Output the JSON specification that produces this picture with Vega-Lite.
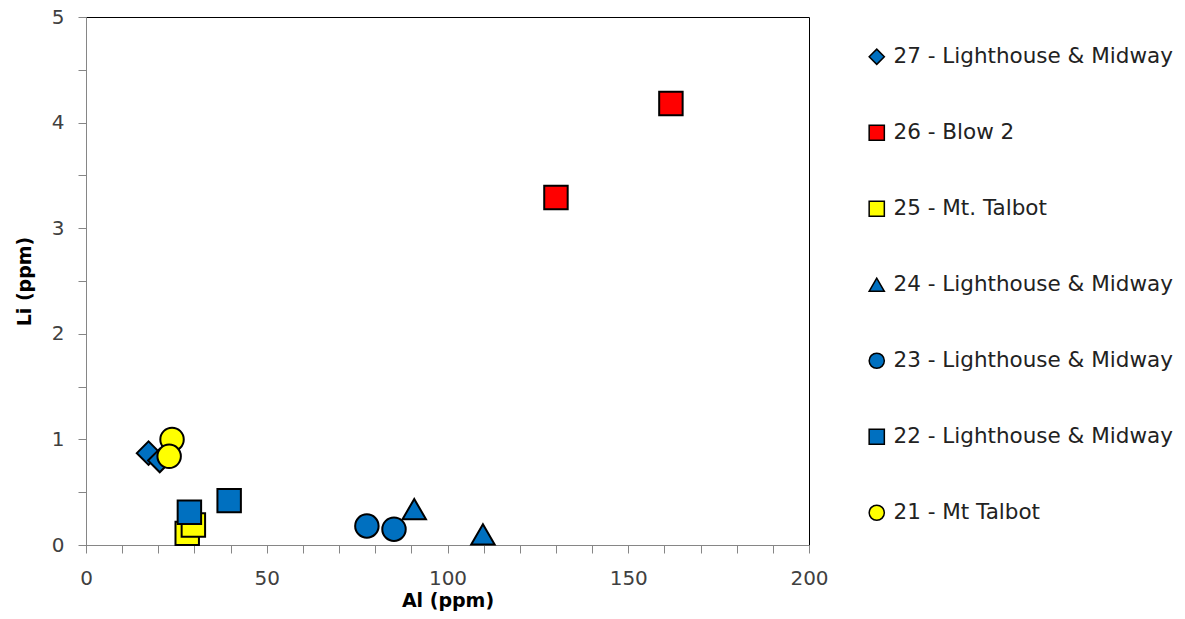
{
  "$schema": "https://vega.github.io/schema/vega-lite/v6.json",
  "width": 723,
  "height": 528,
  "autosize": {"type": "none"},
  "padding": {"left": 86, "top": 17, "right": 376, "bottom": 74},
  "background": "white",
  "config": {
    "font": "DejaVu Sans",
    "view": {"stroke": "#000000", "strokeWidth": 1}
  },
  "data": {
    "values": [
      {"series": "27 - Lighthouse & Midway", "Al": 17.3, "Li": 0.87},
      {"series": "27 - Lighthouse & Midway", "Al": 20.4, "Li": 0.80},
      {"series": "26 - Blow 2", "Al": 130.0, "Li": 3.29},
      {"series": "26 - Blow 2", "Al": 161.8, "Li": 4.18},
      {"series": "25 - Mt. Talbot", "Al": 28.0, "Li": 0.11},
      {"series": "25 - Mt. Talbot", "Al": 29.7, "Li": 0.19},
      {"series": "24 - Lighthouse & Midway", "Al": 90.8, "Li": 0.34},
      {"series": "24 - Lighthouse & Midway", "Al": 109.8, "Li": 0.10},
      {"series": "23 - Lighthouse & Midway", "Al": 77.7, "Li": 0.18},
      {"series": "23 - Lighthouse & Midway", "Al": 85.2, "Li": 0.15},
      {"series": "22 - Lighthouse & Midway", "Al": 28.6, "Li": 0.31},
      {"series": "22 - Lighthouse & Midway", "Al": 39.6, "Li": 0.42},
      {"series": "21 - Mt Talbot", "Al": 23.8, "Li": 1.00},
      {"series": "21 - Mt Talbot", "Al": 23.0, "Li": 0.84}
    ]
  },
  "mark": {"type": "point", "filled": true, "size": 550, "stroke": "#000000", "strokeWidth": 2, "opacity": 1},
  "encoding": {
    "x": {
      "field": "Al", "type": "quantitative",
      "scale": {"domain": [0, 200], "nice": false, "zero": true},
      "axis": {
        "title": "Al (ppm)",
        "values": [0,10,20,30,40,50,60,70,80,90,100,110,120,130,140,150,160,170,180,190,200],
        "format": "d",
        "labelExpr": "datum.value % 50 == 0 ? datum.label : ''",
        "grid": false,
        "domainColor": "#868686", "tickColor": "#868686", "tickSize": 8,
        "labelFontSize": 20, "labelColor": "#404040", "labelPadding": 15,
        "labelFlush": false, "labelOverlap": false,
        "titleFontSize": 19, "titleFontWeight": "bold", "titleColor": "#000000", "titlePadding": 3
      }
    },
    "y": {
      "field": "Li", "type": "quantitative",
      "scale": {"domain": [0, 5], "nice": false},
      "axis": {
        "title": "Li (ppm)",
        "values": [0,0.5,1,1.5,2,2.5,3,3.5,4,4.5,5],
        "format": "~g",
        "labelExpr": "datum.value % 1 == 0 ? datum.label : ''",
        "grid": false,
        "domainColor": "#868686", "tickColor": "#868686", "tickSize": 8,
        "labelFontSize": 20, "labelColor": "#404040", "labelPadding": 14,
        "labelFlush": false, "labelOverlap": false,
        "titleFontSize": 19, "titleFontWeight": "bold", "titleColor": "#000000", "titlePadding": 17
      }
    },
    "shape": {
      "field": "series", "type": "nominal",
      "scale": {
        "domain": ["27 - Lighthouse & Midway", "26 - Blow 2", "25 - Mt. Talbot", "24 - Lighthouse & Midway", "23 - Lighthouse & Midway", "22 - Lighthouse & Midway", "21 - Mt Talbot"],
        "range": ["diamond", "square", "square", "triangle-up", "circle", "square", "circle"]
      },
      "legend": {
        "title": null, "orient": "none", "legendX": 780, "legendY": 29,
        "labelFontSize": 21.5, "labelColor": "#222222", "labelOffset": 6,
        "symbolSize": 230,
        "rowPadding": 53, "padding": 0, "labelLimit": 400,
        "encode": {"symbols": {"update": {"stroke": {"value": "#000000"}, "strokeWidth": {"value": 1}}}}
      }
    },
    "fill": {
      "field": "series", "type": "nominal",
      "scale": {
        "domain": ["27 - Lighthouse & Midway", "26 - Blow 2", "25 - Mt. Talbot", "24 - Lighthouse & Midway", "23 - Lighthouse & Midway", "22 - Lighthouse & Midway", "21 - Mt Talbot"],
        "range": ["#0070C0", "#FF0000", "#FFFF00", "#0070C0", "#0070C0", "#0070C0", "#FFFF00"]
      },
      "legend": {
        "title": null, "orient": "none", "legendX": 780, "legendY": 29,
        "labelFontSize": 21.5, "labelColor": "#222222", "labelOffset": 6,
        "symbolSize": 230,
        "rowPadding": 53, "padding": 0, "labelLimit": 400,
        "encode": {"symbols": {"update": {"stroke": {"value": "#000000"}, "strokeWidth": {"value": 1}}}}
      }
    }
  }
}
